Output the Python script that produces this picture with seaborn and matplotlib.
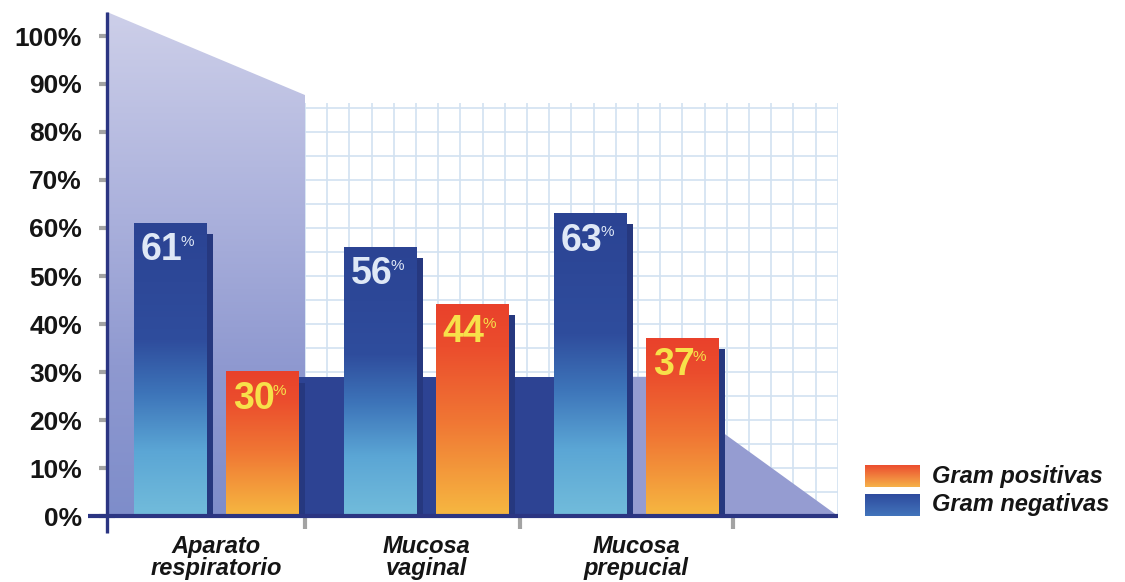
import numpy as np
import pandas as pd
import matplotlib
matplotlib.use("Agg")
import matplotlib.pyplot as plt
import seaborn as sns
from matplotlib import font_manager
from matplotlib.colors import LinearSegmentedColormap, to_rgba
from matplotlib.patches import Polygon, Rectangle
from matplotlib.lines import Line2D

# ---------------- data ----------------
categories = ["Aparato\nrespiratorio", "Mucosa\nvaginal", "Mucosa\nprepucial"]
series = ["Gram negativas", "Gram positivas"]
gram_negativas = [61, 56, 63]
gram_positivas = [30, 44, 37]
legend_labels = ["Gram positivas", "Gram negativas"]
y_ticks = [0, 10, 20, 30, 40, 50, 60, 70, 80, 90, 100]
y_tick_labels = [f"{v}%" for v in y_ticks]

df = pd.DataFrame({
    "categoria": categories * 2,
    "serie": [series[0]] * 3 + [series[1]] * 3,
    "valor": gram_negativas + gram_positivas,
})

# ---------------- style ----------------
sns.set_theme(style="white")
plt.rcParams["font.family"] = ["Liberation Sans", "DejaVu Sans"]
names = {f.name for f in font_manager.fontManager.ttflist}
if "Liberation Sans Narrow" in names:
    num_family = ["Liberation Sans Narrow", "Liberation Sans"]
    num_size = 31
else:
    num_family = ["Liberation Sans", "DejaVu Sans"]
    num_size = 27

BLUE = "#2c4494"
ORANGE = "#e9432c"
NAVY = "#26387f"


def grad(stops, n=256):
    cmap = LinearSegmentedColormap.from_list("g", stops)
    return cmap(np.linspace(0, 1, n))[:, None, :]


blue_grad = grad([(0, "#72bcdb"), (0.22, "#5ba6d5"), (0.42, "#3d74b9"),
                  (0.6, "#2f4d9d"), (1, "#2b4393")])
orange_grad = grad([(0, "#f6b841"), (0.45, "#f07634"), (0.8, "#eb4d2d"),
                    (1, "#e9412b")])
wall_grad = grad([(0, "#7e8dca"), (0.3, "#8f99d0"), (0.6, "#abb1dc"),
                  (1, "#cdcfe9")])
legend_blue = grad([(0, "#4274bb"), (1, "#2e4b9e")])
legend_orange = grad([(0, "#f6b24a"), (1, "#ec4d2f")])

W, H = 1125, 582
fig = plt.figure(figsize=(W / 100, H / 100), dpi=100)
fig.patch.set_facecolor("white")
ax = fig.add_axes([107 / W, 66 / H, 731 / W, 504 / H])
ax.set_facecolor("white")

UNIT = 210.0          # pixels per category step
C0 = 216.5            # pixel x of first category


def px(x):
    return (x - C0) / UNIT


XMIN, XMAX = px(107), px(838)
YMAX = 105

# ---------------- bars via seaborn ----------------
sns.barplot(data=df, x="categoria", y="valor", hue="serie", hue_order=series,
            order=categories, width=0.876, gap=0.217,
            palette=[BLUE, ORANGE], saturation=1, legend=False,
            linewidth=0, zorder=3, ax=ax)
bars = [p for p in ax.patches if p.get_height() > 0]

ax.set_xlim(XMIN, XMAX)
ax.set_ylim(0, YMAX)

# ---------------- background decoration ----------------
xw = px(305)
wall = Polygon([(XMIN, YMAX), (xw, 87.7), (xw, 0), (XMIN, 0)],
               closed=True, facecolor="none", edgecolor="none",
               transform=ax.transData)
ax.add_patch(wall)
im = ax.imshow(wall_grad, extent=[XMIN, xw, 0, YMAX], origin="lower",
               aspect="auto", zorder=1, interpolation="bilinear")
im.set_clip_path(wall)

ax.hlines(np.arange(5, 86, 5), xw, XMAX, color="#d2e2f1", lw=1.2, zorder=0.5)
ax.vlines(np.arange(xw, XMAX + 1e-6, 22.2 / UNIT), 0, 86, color="#d2e2f1",
          lw=1.2, zorder=0.5)

ax.add_patch(Rectangle((px(298), 0), px(630) - px(298), 29,
                       facecolor="#2d4393", edgecolor="none", zorder=2))
ax.add_patch(Polygon([(px(628), 0), (px(628), 29), (px(722), 29),
                      (px(722), 17.5), (XMAX, 0)], closed=True,
                     facecolor="#959cd1", edgecolor="none", zorder=2))

# ---------------- gradient fill, side shadows and values ----------------
for p in bars:
    x0, w, h = p.get_x(), p.get_width(), p.get_height()
    is_blue = np.allclose(p.get_facecolor(), to_rgba(BLUE))
    g = blue_grad if is_blue else orange_grad
    ax.imshow(g, extent=[x0, x0 + w, 0, h], origin="lower", aspect="auto",
              zorder=3.1, interpolation="bilinear")
    p.set_facecolor("none")
    ax.add_patch(Rectangle((x0 + w, 0), 6 / UNIT, h - 2.2,
                           facecolor=NAVY, edgecolor="none", zorder=2.9))
    col = "#dfe8f6" if is_blue else "#f7e14a"
    t = ax.annotate(f"{h:.0f}", xy=(x0, h), xytext=(4.5, -6.5),
                    textcoords="offset points", ha="left", va="top",
                    fontsize=num_size, fontweight="bold", family=num_family,
                    color=col, zorder=6)
    ax.annotate("%", xy=(1, 1), xycoords=t, xytext=(-1.5, -2),
                textcoords="offset points", ha="left", va="top",
                fontsize=11, family=num_family, color=col, zorder=6)

# ---------------- axes ----------------
for s in ax.spines.values():
    s.set_visible(False)
ax.add_line(Line2D([XMIN, XMIN], [-3.6, YMAX], color="#2b3582", lw=2.4,
                   clip_on=False, zorder=7, solid_capstyle="butt"))
ax.add_line(Line2D([px(88), XMAX], [0, 0], color="#2b3582", lw=3.0,
                   clip_on=False, zorder=7, solid_capstyle="butt"))

ax.set_yticks(y_ticks, y_tick_labels)
ax.tick_params(axis="y", which="major", direction="inout", length=12, width=3,
               color="#a3a3a3", pad=12, labelsize=19, labelcolor="#151515",
               left=True)
for lab in ax.get_yticklabels():
    lab.set_fontweight("bold")

ax.set_xticks(range(len(categories)), categories)
ax.set_xticks([px(305), px(520), px(733)], minor=True)
ax.tick_params(axis="x", which="major", length=0, pad=14, labelsize=17,
               labelcolor="#151515")
ax.tick_params(axis="x", which="minor", direction="out", length=9, width=3,
               color="#a3a3a3", bottom=True)
for lab in ax.get_xticklabels():
    lab.set_fontweight("bold")
    lab.set_fontstyle("italic")
    lab.set_linespacing(0.9)
ax.set_xlabel("")
ax.set_ylabel("")
ax.grid(False)

# ---------------- legend ----------------
for (label, g, ytop) in [(legend_labels[0], legend_orange, 465),
                         (legend_labels[1], legend_blue, 494)]:
    lax = fig.add_axes([865 / W, (H - ytop - 22) / H, 55 / W, 22 / H])
    lax.imshow(g, origin="lower", aspect="auto", interpolation="bilinear")
    lax.set_axis_off()
    fig.text(932 / W, (H - ytop - 11) / H, label, ha="left", va="center",
             fontsize=17, fontweight="bold", fontstyle="italic",
             color="#151515")

fig.savefig("out.png", dpi=100, facecolor="white")
